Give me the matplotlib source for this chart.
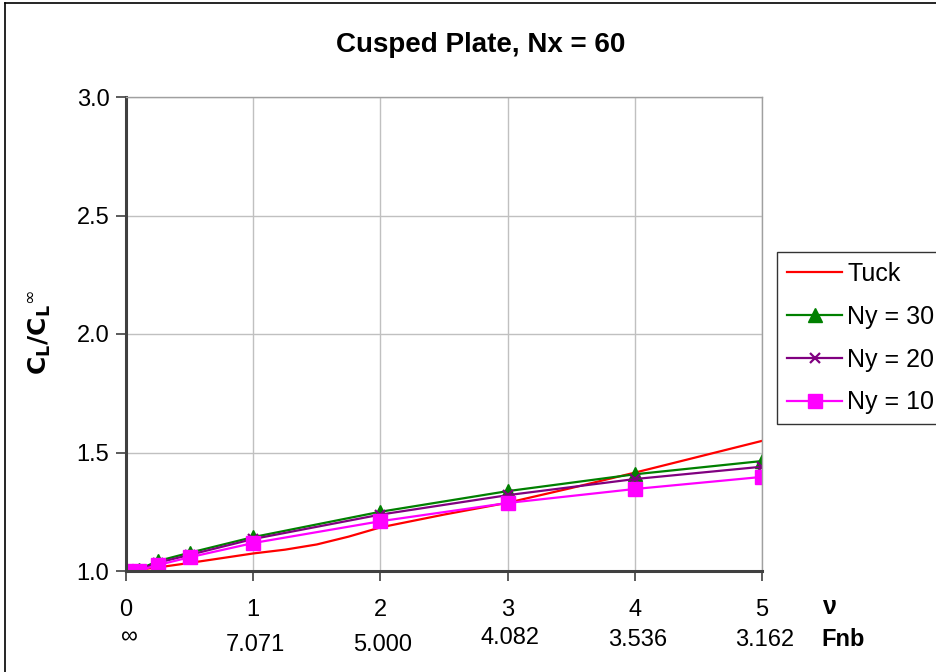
import matplotlib.pyplot as plt
import matplotlib.transforms as mtransforms
from matplotlib.lines import Line2D

plt.rcParams["font.family"] = ["Liberation Sans", "DejaVu Sans"]

# ------------------- dati ------------------- #
nu_tuck = [0, 0.25, 0.5, 1, 1.25, 1.5, 1.75, 2, 2.5, 3, 3.5, 4, 4.5, 5]
cl_tuck = [1.0, 1.015, 1.034, 1.074, 1.090, 1.112, 1.145, 1.184, 1.238,
           1.288, 1.350, 1.415, 1.482, 1.549]

nu_num = [0, 0.1, 0.25, 0.5, 1, 2, 3, 4, 5]
cl_ny30 = [1.0, 1.006, 1.042, 1.077, 1.143, 1.250, 1.337, 1.408, 1.464]
cl_ny20 = [1.0, 1.004, 1.035, 1.068, 1.135, 1.238, 1.320, 1.388, 1.440]
cl_ny10 = [1.0, 1.002, 1.025, 1.058, 1.118, 1.210, 1.287, 1.346, 1.397]

nu_ticks = [0, 1, 2, 3, 4, 5]
fnb_labels = ["\u221e", "7.071", "5.000", "4.082", "3.536", "3.162"]
fnb_y_px = [637, 645, 645, 638, 640, 640]
y_ticks = [1.0, 1.5, 2.0, 2.5, 3.0]

# ------------------- figura ------------------- #
fig = plt.figure(figsize=(9.36, 6.72), dpi=100)
ax = fig.add_axes([126 / 936, 1 - 571 / 672, 636 / 936, 474 / 672])

ax.plot(nu_tuck, cl_tuck, color="#FF0000", linewidth=1.6, label="Tuck")
ax.plot(nu_num, cl_ny30, color="#008000", linewidth=1.6, marker="^",
        markersize=10, label="Ny = 30")
ax.plot(nu_num, cl_ny20, color="#800080", linewidth=1.6, marker="x",
        markersize=7, markeredgewidth=1.6, label="Ny = 20")
ax.plot(nu_num, cl_ny10, color="#FF00FF", linewidth=1.6, marker="s",
        markersize=10, label="Ny = 10")

ax.set_xlim(0, 5)
ax.set_ylim(1.0, 3.0)
ax.set_xticks(nu_ticks)
ax.set_xticklabels([])
ax.set_yticks(y_ticks)
ax.set_yticklabels([f"{v:.1f}" for v in y_ticks], fontsize=17)
ax.tick_params(axis="both", direction="out", length=7, width=1.2, color="#404040")
ax.tick_params(axis="y", pad=5)

ax.grid(True, color="#C0C0C0", linewidth=1.0)
ax.set_axisbelow(True)
for side in ["left", "bottom"]:
    ax.spines[side].set_color("#404040")
    ax.spines[side].set_linewidth(2.2)
for side in ["top", "right"]:
    ax.spines[side].set_color("#A0A0A0")
    ax.spines[side].set_linewidth(1.0)

# etichette asse x su due righe
trans = mtransforms.blended_transform_factory(ax.transData, fig.transFigure)
for x in nu_ticks:
    ax.text(x, 1 - 610 / 672, str(x), transform=trans, ha="center",
            va="center", fontsize=17)
for x, lab, ypx in zip(nu_ticks, fnb_labels, fnb_y_px):
    ax.text(x + (0.03 if x == 0 else 0.02), 1 - ypx / 672, lab,
            transform=trans, ha="center", va="center", fontsize=17)
ax.text(830 / 936, 1 - 607 / 672, "\u03bd", transform=fig.transFigure,
        ha="center", va="center", fontsize=18, fontweight="bold")
ax.text(843 / 936, 1 - 640 / 672, "Fnb", transform=fig.transFigure,
        ha="center", va="center", fontsize=17, fontweight="bold")

fig.text(40 / 936, 1 - 333 / 672, r"$\mathbf{C_L/C_L}^{\infty}$", rotation=90,
         ha="center", va="center", fontsize=18)
fig.text(481 / 936, 1 - 45 / 672, "Cusped Plate, Nx = 60", ha="center",
         va="center", fontsize=20, fontweight="bold")

leg = ax.legend(loc="upper left", bbox_to_anchor=(777 / 936, 1 - 252 / 672),
                bbox_transform=fig.transFigure, fontsize=18, frameon=True,
                fancybox=False, edgecolor="black", handlelength=2.2,
                labelspacing=0.75, borderaxespad=0, borderpad=0.4,
                handletextpad=0.2)
leg.get_frame().set_linewidth(1.0)

# bordo esterno del grafico
fig.add_artist(Line2D([5 / 936, 5 / 936], [0, 1 - 3 / 672], color="black",
                      linewidth=1.2, transform=fig.transFigure))
fig.add_artist(Line2D([5 / 936, 1], [1 - 3 / 672, 1 - 3 / 672], color="black",
                      linewidth=1.2, transform=fig.transFigure))

fig.savefig("out.png", dpi=100)
